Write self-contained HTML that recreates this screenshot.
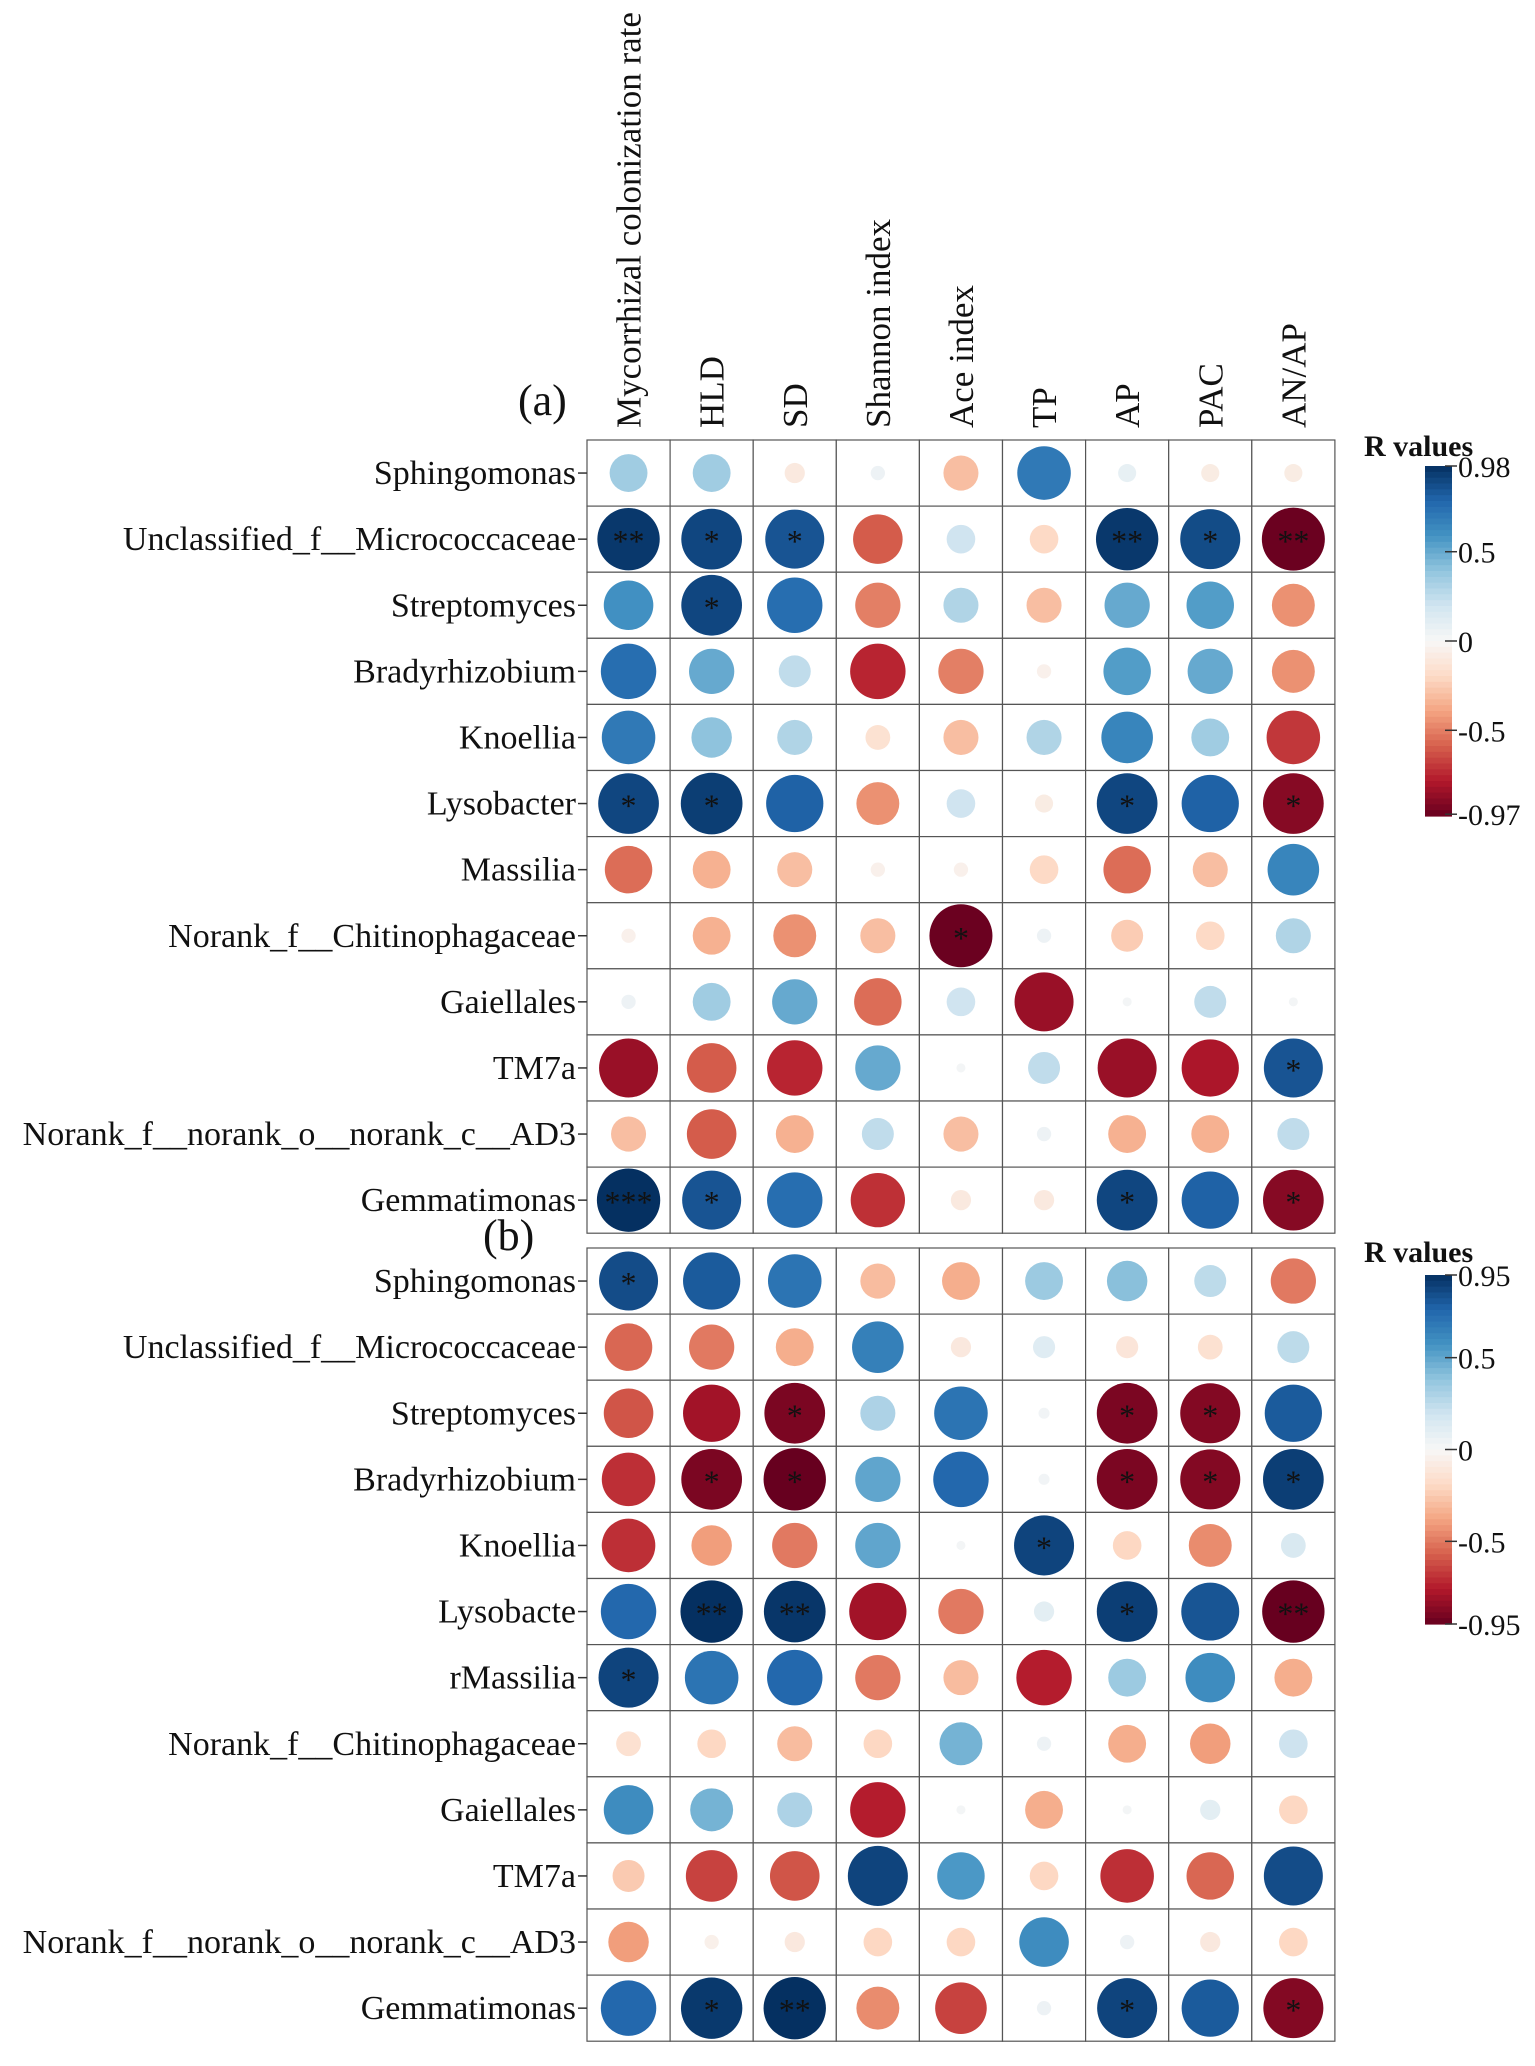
<!DOCTYPE html>
<html><head><meta charset="utf-8"><style>
body{margin:0;background:#fff}
svg text{font-family:"Liberation Serif",serif;fill:#111}
</style></head><body>
<svg id="chart" width="1535" height="2061" viewBox="0 0 1535 2061" xmlns="http://www.w3.org/2000/svg"></svg>
<script>
const columns = ["Mycorrhizal colonization rate","HLD","SD","Shannon  index","Ace index","TP","AP","PAC","AN/AP"];
const rowsA = ["Sphingomonas","Unclassified_f__Micrococcaceae","Streptomyces","Bradyrhizobium","Knoellia","Lysobacter","Massilia","Norank_f__Chitinophagaceae","Gaiellales","TM7a","Norank_f__norank_o__norank_c__AD3","Gemmatimonas"];
const rowsB = ["Sphingomonas","Unclassified_f__Micrococcaceae","Streptomyces","Bradyrhizobium","Knoellia","Lysobacte","rMassilia","Norank_f__Chitinophagaceae","Gaiellales","TM7a","Norank_f__norank_o__norank_c__AD3","Gemmatimonas"];
const valuesA = [
[0.35,0.35,-0.1,0.05,-0.3,0.7,0.08,-0.08,-0.08],
[0.95,0.9,0.85,-0.6,0.2,-0.2,0.95,0.88,-0.97],
[0.6,0.9,0.75,-0.5,0.3,-0.3,0.5,0.55,-0.45],
[0.75,0.5,0.25,-0.75,-0.5,-0.05,0.55,0.5,-0.45],
[0.7,0.4,0.3,-0.15,-0.3,0.3,0.65,0.35,-0.7],
[0.9,0.93,0.8,-0.45,0.2,-0.08,0.9,0.8,-0.9],
[-0.55,-0.35,-0.3,-0.05,-0.05,-0.2,-0.55,-0.3,0.65],
[-0.05,-0.35,-0.45,-0.3,-0.97,0.05,-0.25,-0.2,0.3],
[0.05,0.35,0.5,-0.55,0.2,-0.85,0.02,0.25,0.02],
[-0.85,-0.6,-0.75,0.5,0.02,0.25,-0.85,-0.8,0.85],
[-0.3,-0.6,-0.35,0.25,-0.3,0.05,-0.35,-0.35,0.25],
[0.98,0.85,0.75,-0.72,-0.1,-0.1,0.9,0.8,-0.9]];
const starsA = [
["","","","","","","","",""],
["**","*","*","","","","**","*","**"],
["","*","","","","","","",""],
["","","","","","","","",""],
["","","","","","","","",""],
["*","*","","","","","*","","*"],
["","","","","","","","",""],
["","","","","*","","","",""],
["","","","","","","","",""],
["","","","","","","","","*"],
["","","","","","","","",""],
["***","*","","","","","*","","*"]];
const valuesB = [
[0.85,0.8,0.7,-0.3,-0.35,0.35,0.4,0.25,-0.5],
[-0.55,-0.5,-0.35,0.65,-0.1,0.12,-0.12,-0.15,0.25],
[-0.6,-0.8,-0.9,0.3,0.7,0.03,-0.9,-0.88,0.8],
[-0.7,-0.9,-0.95,0.5,0.75,0.03,-0.9,-0.88,0.9],
[-0.7,-0.4,-0.5,0.5,0.02,0.88,-0.2,-0.45,0.15],
[0.75,0.95,0.93,-0.8,-0.5,0.1,0.9,0.82,-0.95],
[0.88,0.7,0.75,-0.5,-0.3,-0.75,0.35,0.6,-0.35],
[-0.15,-0.2,-0.3,-0.2,0.45,0.05,-0.35,-0.4,0.2],
[0.6,0.45,0.3,-0.75,0.02,-0.35,0.02,0.1,-0.2],
[-0.25,-0.65,-0.6,0.88,0.55,-0.2,-0.7,-0.55,0.85],
[-0.4,-0.05,-0.1,-0.2,-0.2,0.6,0.05,-0.1,-0.2],
[0.75,0.92,0.95,-0.45,-0.65,0.05,0.88,0.8,-0.88]];
const starsB = [
["*","","","","","","","",""],
["","","","","","","","",""],
["","","*","","","","*","*",""],
["","*","*","","","","*","*","*"],
["","","","","","*","","",""],
["","**","**","","","","*","","**"],
["*","","","","","","","",""],
["","","","","","","","",""],
["","","","","","","","",""],
["","","","","","","","",""],
["","","","","","","","",""],
["","*","**","","","","*","","*"]];
const legendTicksA = [0.98,0.5,0,-0.5,-0.97];
const legendLabelsA = ["0.98","0.5","0","-0.5","-0.97"];
const legendTicksB = [0.95,0.5,0,-0.5,-0.95];
const legendLabelsB = ["0.95","0.5","0","-0.5","-0.95"];

const NS="http://www.w3.org/2000/svg";
const svg=document.getElementById('chart');
function mk(tag,attrs,parent){const e=document.createElementNS(NS,tag);for(const k in attrs)e.setAttribute(k,attrs[k]);(parent||svg).appendChild(e);return e;}
const stops=[[-1,[103,0,31]],[-0.8,[178,24,43]],[-0.6,[214,96,77]],[-0.4,[244,165,130]],[-0.2,[253,219,199]],[0,[247,247,247]],[0.2,[209,229,240]],[0.4,[146,197,222]],[0.6,[67,147,195]],[0.8,[33,102,172]],[1,[5,48,97]]];
function color(t){t=Math.max(-1,Math.min(1,t));for(let i=0;i<stops.length-1;i++){const a=stops[i],b=stops[i+1];if(t<=b[0]){const f=(t-a[0])/(b[0]-a[0]);const c=a[1].map((v,j)=>Math.round(v+(b[1][j]-v)*f));return `rgb(${c[0]},${c[1]},${c[2]})`;}}return 'rgb(5,48,97)';}

const X0=587,CW=83.1,RH=66.1,RMAX=32;
function xc(j){return X0+CW*(j+0.5);}
function panel(top,rows,vals,stars,lim,name){
  const g=mk('g',{});
  
  
  for(let i=0;i<rows.length;i++){
    for(let j=0;j<columns.length;j++){
      const cell=mk('rect',{x:X0+CW*j,y:top+RH*i,width:CW,height:RH,fill:'#fff',stroke:'#555','stroke-width':1.2},g);
      
      
      const v=vals[i][j];
      const c=mk('circle',{cx:xc(j),cy:top+RH*(i+0.5),r:RMAX*Math.sqrt(Math.abs(v)),fill:color(v/lim)},g);
      
      
      if(stars[i][j]){
        const s=mk('text',{x:xc(j),y:top+RH*(i+0.5)+13,'text-anchor':'middle','font-size':32},g);
        
        
        s.textContent=stars[i][j];
      }
    }
    const yy=top+RH*(i+0.5);
    mk('line',{x1:X0-9,x2:X0,y1:yy,y2:yy,stroke:'#333','stroke-width':1.5},g);
    const t=mk('text',{x:X0-11,y:yy+11,'text-anchor':'end','font-size':34},g);
    
    
    t.textContent=rows[i];
  }
}
function legend(top,bottom,ticks,labels,lim,name,titleY){
  const g=mk('g',{});
  
  
  const tt=mk('text',{x:1364,y:titleY,'font-size':30,'font-weight':'bold'},g);
  
  
  tt.textContent='R  values';
  const n=60,h=(bottom-top)/n;
  for(let k=0;k<n;k++){const t=lim-(2*lim)*(k+0.5)/n;mk('rect',{x:1425,y:top+k*h,width:27,height:h+0.6,fill:color(t/lim)},g);}
  const ys=v=>top+(lim-v)/(2*lim)*(bottom-top);
  ticks.forEach((v,k)=>{const y=ys(v);mk('line',{x1:1445,x2:1457,y1:y,y2:y,stroke:'#333','stroke-width':1.5},g);
    const l=mk('text',{x:1458,y:y+11,'font-size':30},g);
    
    
    l.textContent=labels[k];});
}
columns.forEach((c,j)=>{const t=mk('text',{transform:`translate(${xc(j)+12},428) rotate(-90)`,'font-size':35});
  
  
  t.textContent=c;});
panel(440,rowsA,valuesA,starsA,0.98,'panel-a');
panel(1248,rowsB,valuesB,starsB,0.95,'panel-b');
const la=mk('text',{x:518,y:415,'font-size':44});


la.textContent='(a)';
const lb=mk('text',{x:483,y:1250,'font-size':44});


lb.textContent='(b)';
legend(466,816,legendTicksA,legendLabelsA,0.98,'legend-a',456);
legend(1275,1624,legendTicksB,legendLabelsB,0.95,'legend-b',1262);
</script>
</body></html>
